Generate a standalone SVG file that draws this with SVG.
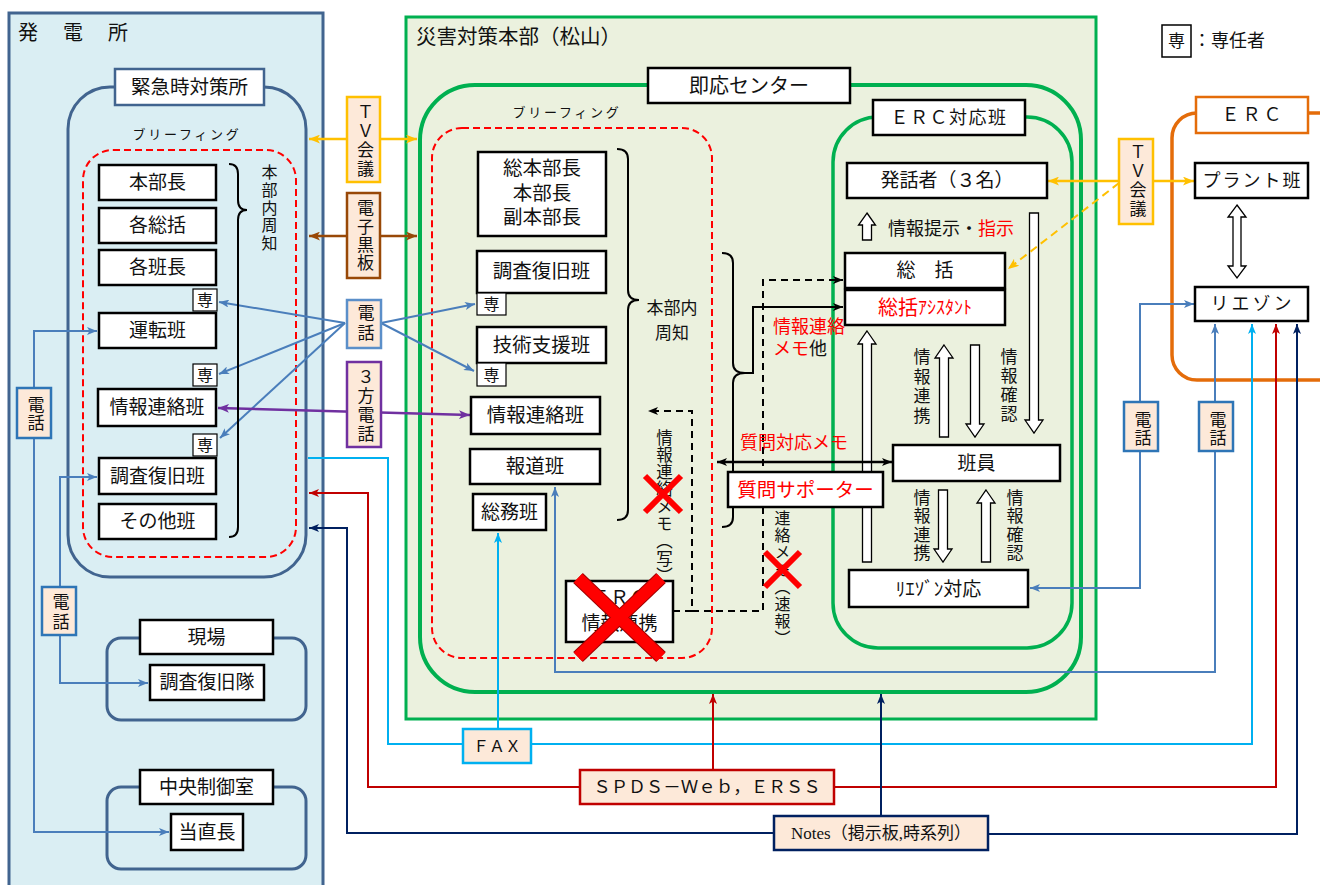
<svg xmlns="http://www.w3.org/2000/svg" width="1320" height="885" viewBox="0 0 1320 885">
<style>
text{font-family:"Liberation Serif","Noto Sans CJK JP",serif;fill:#111;}
.c{text-anchor:middle;dominant-baseline:central;}
.l{dominant-baseline:central;}
.v{writing-mode:vertical-rl;dominant-baseline:central;}
.bx{fill:#fff;stroke:#000;stroke-width:2.5;}
.sm{fill:#fff;stroke:#000;stroke-width:1.2;}
.lab{fill:#fde9d9;stroke-width:2.5;}
.rd{fill:none;stroke:#ff0000;stroke-width:2;stroke-dasharray:7 4;}
.ha{fill:#fff;stroke:#000;stroke-width:1.3;}
.cn{fill:none;stroke-width:2;}
.rt{fill:#ff0000;}
.x{stroke:#ff0000;stroke-linecap:butt;}
</style>
<defs>
<marker id="mB" viewBox="0 0 10 8" refX="10" refY="4" markerWidth="10" markerHeight="8" markerUnits="userSpaceOnUse" orient="auto-start-reverse"><path d="M0,0 L10,4 L0,8 L2.5,4 Z" fill="#4a7ebb"/></marker>
<marker id="mL" viewBox="0 0 10 8" refX="10" refY="4" markerWidth="10" markerHeight="8" markerUnits="userSpaceOnUse" orient="auto-start-reverse"><path d="M0,0 L10,4 L0,8 L2.5,4 Z" fill="#00b0f0"/></marker>
<marker id="mR" viewBox="0 0 10 8" refX="10" refY="4" markerWidth="10" markerHeight="8" markerUnits="userSpaceOnUse" orient="auto-start-reverse"><path d="M0,0 L10,4 L0,8 L2.5,4 Z" fill="#c00000"/></marker>
<marker id="mN" viewBox="0 0 10 8" refX="10" refY="4" markerWidth="10" markerHeight="8" markerUnits="userSpaceOnUse" orient="auto-start-reverse"><path d="M0,0 L10,4 L0,8 L2.5,4 Z" fill="#002060"/></marker>
<marker id="mG" viewBox="0 0 10 8" refX="10" refY="4" markerWidth="11" markerHeight="9" markerUnits="userSpaceOnUse" orient="auto-start-reverse"><path d="M0,0 L10,4 L0,8 L2.5,4 Z" fill="#ffc000"/></marker>
<marker id="mW" viewBox="0 0 10 8" refX="10" refY="4" markerWidth="11" markerHeight="9" markerUnits="userSpaceOnUse" orient="auto-start-reverse"><path d="M0,0 L10,4 L0,8 L2.5,4 Z" fill="#984807"/></marker>
<marker id="mP" viewBox="0 0 10 8" refX="10" refY="4" markerWidth="11" markerHeight="9" markerUnits="userSpaceOnUse" orient="auto-start-reverse"><path d="M0,0 L10,4 L0,8 L2.5,4 Z" fill="#7030a0"/></marker>
<marker id="mK" viewBox="0 0 10 8" refX="10" refY="4" markerWidth="10" markerHeight="8" markerUnits="userSpaceOnUse" orient="auto-start-reverse"><path d="M0,0 L10,4 L0,8 L2.5,4 Z" fill="#000"/></marker>
</defs>

<!-- panels -->
<g id="hatsudensho">
<rect x="9" y="13" width="314" height="890" fill="#daeef3" stroke="#41648f" stroke-width="3"/>
<text x="18" y="33" class="l" font-size="20" word-spacing="20">発 電 所</text>
</g>
<g id="saigai">
<rect x="406" y="17" width="690" height="702" fill="#ebf1de" stroke="#00b050" stroke-width="3"/>
<text x="416" y="37" class="l" font-size="20.5">災害対策本部（松山）</text>
</g>
<g id="erc-panel">
<rect x="1172" y="113" width="180" height="267" rx="25" fill="none" stroke="#e46c0a" stroke-width="3.5"/>
</g>
<g id="kinkyuji-frame">
<rect x="68" y="87" width="238" height="490" rx="42" fill="none" stroke="#41648f" stroke-width="3"/>
<text x="187" y="134" class="c" font-size="13" letter-spacing="2.7">ブリーフィング</text>
<rect x="83" y="150" width="213" height="407" rx="30" class="rd"/>
</g>
<g id="genba-frame"><rect x="107" y="638" width="199" height="82" rx="14" fill="none" stroke="#41648f" stroke-width="3"/></g>
<g id="chuo-frame"><rect x="107" y="787" width="199" height="82" rx="14" fill="none" stroke="#41648f" stroke-width="3"/></g>
<g id="sokuo-frame">
<rect x="420" y="85" width="661" height="607" rx="55" fill="none" stroke="#00b050" stroke-width="4"/>
<text x="567" y="112" class="c" font-size="13" letter-spacing="2.7">ブリーフィング</text>
<rect x="432" y="128" width="280" height="530" rx="30" class="rd"/>
</g>
<g id="erctaio-frame"><rect x="833" y="117" width="239" height="531" rx="45" fill="none" stroke="#00b050" stroke-width="3.5"/></g>

<!-- hollow arrows -->
<g id="hollow-arrows">
<polygon class="ha" points="867,213 875.5,225 871.5,225 871.5,240 862.5,240 862.5,225 858.5,225"/>
<polygon class="ha" points="867,331 876,344 871.5,344 871.5,562 862.5,562 862.5,344 858,344"/>
<polygon class="ha" points="944,345 953,358 948.5,358 948.5,437 939.5,437 939.5,358 935,358"/>
<polygon class="ha" points="970.5,345 979.5,345 979.5,424 984,424 975,437 966,424 970.5,424"/>
<polygon class="ha" points="1029.5,213 1038.5,213 1038.5,420 1043,420 1034,433 1025,420 1029.5,420"/>
<polygon class="ha" points="938.5,490 947.5,490 947.5,549 952,549 943,562 934,549 938.5,549"/>
<polygon class="ha" points="986,490 995,503 990.5,503 990.5,562 981.5,562 981.5,503 977,503"/>
<polygon class="ha" points="1237,205 1246,217 1241,217 1241,266 1246,266 1237,278 1228,266 1233,266 1233,217 1228,217"/>
</g>

<!-- connectors -->
<g id="connectors">
<line x1="309" y1="139" x2="417" y2="139" stroke="#ffc000" stroke-width="2.5" marker-start="url(#mG)" marker-end="url(#mG)"/>
<line x1="309" y1="236" x2="417" y2="236" stroke="#984807" stroke-width="2.5" marker-start="url(#mW)" marker-end="url(#mW)"/>
<line x1="1048" y1="181" x2="1194" y2="181" stroke="#ffc000" stroke-width="2.5" marker-start="url(#mG)" marker-end="url(#mG)"/>
<path d="M1119,183 L1008,269" class="cn" stroke="#ffc000" stroke-width="2.5" stroke-dasharray="8 5" marker-end="url(#mG)"/>
<path d="M345,323 L219,302" class="cn" stroke="#4a7ebb" marker-end="url(#mB)"/>
<path d="M345,323 L219,374" class="cn" stroke="#4a7ebb" marker-end="url(#mB)"/>
<path d="M345,323 L220,438" class="cn" stroke="#4a7ebb" marker-end="url(#mB)"/>
<path d="M381,323 L475,304" class="cn" stroke="#4a7ebb" marker-end="url(#mB)"/>
<path d="M381,323 L474,371" class="cn" stroke="#4a7ebb" marker-end="url(#mB)"/>
<line x1="218" y1="408" x2="470" y2="415" stroke="#7030a0" stroke-width="2.5" marker-start="url(#mP)" marker-end="url(#mP)"/>
<path d="M97,331 L34,331 L34,832 L169,832" class="cn" stroke="#4a7ebb" marker-start="url(#mB)" marker-end="url(#mB)"/>
<path d="M97,477 L60,477 L60,683 L148,683" class="cn" stroke="#4a7ebb" marker-start="url(#mB)" marker-end="url(#mB)"/>
<path d="M308,458 L388,458 L388,744 L463,744" class="cn" stroke="#00b0f0"/>
<path d="M531,744 L1252,744 L1252,324" class="cn" stroke="#00b0f0" marker-end="url(#mL)"/>
<path d="M498,729 L498,533" class="cn" stroke="#00b0f0" marker-end="url(#mL)"/>
<path d="M580,787 L368,787 L368,493 L309,493" class="cn" stroke="#c00000" marker-end="url(#mR)"/>
<path d="M834,787 L1276,787 L1276,324" class="cn" stroke="#c00000" marker-end="url(#mR)"/>
<path d="M713,770 L713,694" class="cn" stroke="#c00000" marker-end="url(#mR)"/>
<path d="M774,833 L347,833 L347,528 L309,528" class="cn" stroke="#002060" marker-end="url(#mN)"/>
<path d="M988,834 L1297,834 L1297,324" class="cn" stroke="#002060" marker-end="url(#mN)"/>
<path d="M881,816 L881,694" class="cn" stroke="#002060" marker-end="url(#mN)"/>
<path d="M555,487 L555,672 L1215,672 L1215,324" class="cn" stroke="#4a7ebb" marker-start="url(#mB)" marker-end="url(#mB)"/>
<path d="M1030,588 L1140,588 L1140,304 L1194,304" class="cn" stroke="#4a7ebb" marker-start="url(#mB)" marker-end="url(#mB)"/>
<path d="M673,611 L692,611 L692,411 L648,411" class="cn" stroke="#000" stroke-dasharray="7 5" marker-end="url(#mK)"/>
<path d="M692,611 L763,611 L763,280 L843,280" class="cn" stroke="#000" stroke-dasharray="7 5" marker-end="url(#mK)"/>
<path d="M745,373 L753,373 L753,307 L843,307" class="cn" stroke="#000" stroke-width="2.5" marker-end="url(#mK)"/>
<line x1="717" y1="462" x2="892" y2="462" stroke="#000" stroke-width="2.5" marker-start="url(#mK)" marker-end="url(#mK)"/>
<path d="M229,164 Q238,164 238,174 L238,200 Q238,210 247,210 Q238,210 238,220 L238,527 Q238,537 229,537" class="cn" stroke="#000" stroke-width="2.5"/>
<path d="M617,149 Q628,149 628,159 L628,290 Q628,300 639,300 Q628,300 628,310 L628,510 Q628,520 617,520" class="cn" stroke="#000" stroke-width="2.5"/>
<path d="M722,253 Q733,253 733,263 L733,363 Q733,373 745,373 Q733,373 733,383 L733,517 Q733,527 722,527" class="cn" stroke="#000" stroke-width="2.5"/>
</g>

<!-- left side nodes -->
<g id="kinkyuji-label"><rect x="115" y="69" width="149" height="36" fill="#fff" stroke="#41648f" stroke-width="2.5"/><text x="189.5" y="87" class="c" font-size="19.5">緊急時対策所</text></g>
<g id="honbucho-l"><rect x="99" y="165" width="117" height="35" class="bx"/><text x="157.5" y="182.5" class="c" font-size="19">本部長</text></g>
<g id="kakusokatsu"><rect x="99" y="208" width="117" height="35" class="bx"/><text x="157.5" y="225.5" class="c" font-size="19">各総括</text></g>
<g id="kakuhancho"><rect x="99" y="250" width="117" height="35" class="bx"/><text x="157.5" y="267.5" class="c" font-size="19">各班長</text></g>
<g id="sen-l1"><rect x="193" y="289" width="24" height="22" class="sm"/><text x="205" y="300" class="c" font-size="16">専</text></g>
<g id="untenhan"><rect x="99" y="313" width="117" height="35" class="bx"/><text x="157.5" y="330.5" class="c" font-size="19">運転班</text></g>
<g id="sen-l2"><rect x="193" y="364" width="24" height="22" class="sm"/><text x="205" y="375" class="c" font-size="16">専</text></g>
<g id="johorenraku-l"><rect x="98" y="389" width="118" height="37" class="bx"/><text x="157" y="407.5" class="c" font-size="19">情報連絡班</text></g>
<g id="sen-l3"><rect x="193" y="434" width="24" height="22" class="sm"/><text x="205" y="445" class="c" font-size="16">専</text></g>
<g id="chosafukkyu-l"><rect x="99" y="458" width="117" height="36" class="bx"/><text x="157.5" y="476" class="c" font-size="19">調査復旧班</text></g>
<g id="sonota"><rect x="99" y="504" width="117" height="35" class="bx"/><text x="157.5" y="521.5" class="c" font-size="19">その他班</text></g>
<g id="shuchi-l"><text x="268" y="164" class="v" font-size="16" letter-spacing="1.8">本部内周知</text></g>
<g id="tel-l1"><rect x="17" y="388" width="34" height="50" class="lab" stroke="#2e75b6"/><text x="34" y="396.5" class="v" font-size="17" letter-spacing="1">電話</text></g>
<g id="tel-l2"><rect x="42" y="587" width="34" height="48" class="lab" stroke="#2e75b6"/><text x="59" y="593.5" class="v" font-size="17" letter-spacing="3">電話</text></g>
<g id="genba"><rect x="140" y="620" width="133" height="34" class="bx"/><text x="206.5" y="637" class="c" font-size="19">現場</text></g>
<g id="chosatai"><rect x="150" y="665" width="114" height="35" class="bx"/><text x="207" y="682.5" class="c" font-size="19">調査復旧隊</text></g>
<g id="chuo"><rect x="140" y="770" width="133" height="34" class="bx"/><text x="206.5" y="787" class="c" font-size="19">中央制御室</text></g>
<g id="tochokucho"><rect x="171" y="814" width="72" height="36" class="bx"/><text x="207" y="832" class="c" font-size="19">当直長</text></g>

<!-- middle labels -->
<g id="tv-l"><rect x="347" y="97" width="33" height="85" class="lab" stroke="#ffc000"/><text x="363.5" y="103.5" class="v" font-size="17" letter-spacing="1.7">ＴＶ会議</text></g>
<g id="denshi"><rect x="347" y="193" width="33" height="85" class="lab" stroke="#984807"/><text x="363.5" y="199.5" class="v" font-size="17" letter-spacing="1.3">電子黒板</text></g>
<g id="tel-m"><rect x="347" y="300" width="34" height="48" class="lab" stroke="#5b8fc9"/><text x="364" y="304.5" class="v" font-size="17" letter-spacing="3">電話</text></g>
<g id="sanpo"><rect x="347" y="362" width="34" height="85" class="lab" stroke="#7030a0"/><text x="364" y="368.5" class="v" font-size="17" letter-spacing="1.7">３方電話</text></g>

<!-- HQ nodes -->
<g id="sokuo-label"><rect x="648" y="68" width="202" height="35" class="bx"/><text x="749" y="85.5" class="c" font-size="20">即応センター</text></g>
<g id="honbucho-m"><rect x="478" y="152" width="128" height="84" class="bx"/><text x="542" y="168" class="c" font-size="19.5">総本部長</text><text x="542" y="193" class="c" font-size="19.5">本部長</text><text x="542" y="217" class="c" font-size="19.5">副本部長</text></g>
<g id="chosafukkyu-m"><rect x="477" y="251" width="129" height="42" class="bx"/><text x="541.5" y="271" class="c" font-size="19.5">調査復旧班</text></g>
<g id="sen-m1"><rect x="477" y="293" width="29" height="22" class="sm"/><text x="491.5" y="304" class="c" font-size="16">専</text></g>
<g id="gijutsu"><rect x="477" y="327" width="129" height="36" class="bx"/><text x="541.5" y="345" class="c" font-size="19.5">技術支援班</text></g>
<g id="sen-m2"><rect x="477" y="363" width="29" height="23" class="sm"/><text x="491.5" y="375" class="c" font-size="16">専</text></g>
<g id="johorenraku-m"><rect x="471" y="397" width="129" height="37" class="bx"/><text x="535.5" y="415.5" class="c" font-size="19.5">情報連絡班</text></g>
<g id="hodo"><rect x="470" y="449" width="130" height="35" class="bx"/><text x="535" y="466.5" class="c" font-size="19.5">報道班</text></g>
<g id="somu"><rect x="473" y="494" width="73" height="36" class="bx"/><text x="509.5" y="512" class="c" font-size="19">総務班</text></g>
<g id="shuchi-m"><text x="672" y="308" class="c" font-size="17">本部内</text><text x="672" y="333" class="c" font-size="17">周知</text></g>
<g id="erc-joho"><rect x="566" y="581" width="107" height="61" class="bx"/><text x="619.5" y="597" class="c" font-size="19">ＥＲＣ</text><text x="619.5" y="623" class="c" font-size="19">情報連携</text>
<line x1="578" y1="578" x2="661" y2="657" stroke="#a00000" stroke-width="14"/><line x1="661" y1="578" x2="578" y2="657" stroke="#a00000" stroke-width="14"/>
<line x1="578" y1="578" x2="661" y2="657" class="x" stroke-width="12"/><line x1="661" y1="578" x2="578" y2="657" class="x" stroke-width="12"/></g>
<g id="memo-copy"><text x="663" y="429" class="v" font-size="16.5" letter-spacing="0.8">情報連絡メモ（写）</text>
<line x1="645" y1="476" x2="681" y2="512" class="x" stroke-width="6"/><line x1="681" y1="476" x2="645" y2="512" class="x" stroke-width="6"/></g>
<g id="memo-sokuho"><text x="781" y="510" class="v" font-size="16" letter-spacing="1.2">連絡メモ（速報）</text>
<line x1="765" y1="552" x2="800" y2="587" class="x" stroke-width="6"/><line x1="800" y1="552" x2="765" y2="587" class="x" stroke-width="6"/></g>
<g id="memo-label"><text x="773" y="327" class="l rt" font-size="18">情報連絡</text><text x="773" y="349" class="l" font-size="18"><tspan class="rt">メモ</tspan>他</text></g>
<g id="shitsumon-memo"><text x="740" y="443" class="l rt" font-size="18">質問対応メモ</text></g>
<g id="supporter"><rect x="728" y="472" width="155" height="35" class="bx"/><text x="805.5" y="490" class="c rt" font-size="19.5">質問サポーター</text></g>

<!-- ERC response team -->
<g id="erctaio-label"><rect x="873" y="100" width="152" height="35" class="bx"/><text x="949" y="117.5" class="c" font-size="18" letter-spacing="1.5">ＥＲＣ対応班</text></g>
<g id="hatsuwa"><rect x="847" y="163" width="200" height="35" class="bx"/><text x="947" y="180.5" class="c" font-size="19">発話者（３名）</text></g>
<g id="teiji"><text x="888" y="229" class="l" font-size="18">情報提示・<tspan class="rt">指示</tspan></text></g>
<g id="sokatsu"><rect x="845" y="253" width="160" height="35" class="bx"/><text x="925" y="270.5" class="c" font-size="19">総　括</text></g>
<g id="assistant"><rect x="845" y="290" width="160" height="35" class="bx"/><text x="925" y="307.5" class="c rt" font-size="20">総括<tspan font-size="18">ｱｼｽﾀﾝﾄ</tspan></text></g>
<g id="renkei-1"><text x="920" y="348.5" class="v" font-size="17" letter-spacing="2.5">情報連携</text></g>
<g id="kakunin-1"><text x="1007" y="348.5" class="v" font-size="17" letter-spacing="2">情報確認</text></g>
<g id="hanin"><rect x="893" y="445" width="167" height="36" class="bx"/><text x="976.5" y="463" class="c" font-size="19">班員</text></g>
<g id="renkei-2"><text x="920" y="489" class="v" font-size="17" letter-spacing="1.3">情報連携</text></g>
<g id="kakunin-2"><text x="1013" y="489" class="v" font-size="17" letter-spacing="1.3">情報確認</text></g>
<g id="liaison-taio"><rect x="849" y="570" width="179" height="37" class="bx"/><text x="938.5" y="589" class="c" font-size="19">ﾘｴｿﾞﾝ対応</text></g>

<!-- right side -->
<g id="tv-r"><rect x="1119" y="139" width="34" height="85" class="lab" stroke="#ffc000"/><text x="1136" y="143.5" class="v" font-size="17" letter-spacing="2">ＴＶ会議</text></g>
<g id="tel-r1"><rect x="1124" y="402" width="34" height="49" class="lab" stroke="#2e75b6"/><text x="1141" y="411.5" class="v" font-size="17" letter-spacing="1">電話</text></g>
<g id="tel-r2"><rect x="1199" y="402" width="34" height="49" class="lab" stroke="#2e75b6"/><text x="1216" y="411.5" class="v" font-size="17" letter-spacing="1">電話</text></g>
<g id="erc-label"><rect x="1196" y="97" width="112" height="36" fill="#fff" stroke="#e46c0a" stroke-width="2.5"/><text x="1253" y="115" class="c" font-size="18" letter-spacing="3">ＥＲＣ</text></g>
<g id="plant"><rect x="1195" y="163" width="113" height="35" class="bx"/><text x="1252.5" y="181" class="c" font-size="18" letter-spacing="2">プラント班</text></g>
<g id="liaison"><rect x="1195" y="287" width="113" height="34" class="bx"/><text x="1252.5" y="304" class="c" font-size="18" letter-spacing="3">リエゾン</text></g>

<!-- bottom media -->
<g id="fax"><rect x="463" y="729" width="68" height="34" class="lab" stroke="#00b0f0"/><text x="497" y="746" class="c" font-size="16">ＦＡＸ</text></g>
<g id="spds"><rect x="580" y="770" width="254" height="34" class="lab" stroke="#c00000"/><text x="707" y="787" class="c" font-size="17.5">ＳＰＤＳ－Ｗｅｂ，ＥＲＳＳ</text></g>
<g id="notes"><rect x="774" y="816" width="214" height="34" class="lab" stroke="#002060"/><text x="881" y="833" class="c" font-size="17">Notes（掲示板,時系列）</text></g>

<!-- legend -->
<g id="legend"><rect x="1162" y="25" width="29" height="32" fill="#fff" stroke="#000" stroke-width="1.5"/><text x="1176.5" y="41" class="c" font-size="17">専</text><text x="1193" y="41" class="l" font-size="18" fill="#333">：専任者</text></g>
</svg>
